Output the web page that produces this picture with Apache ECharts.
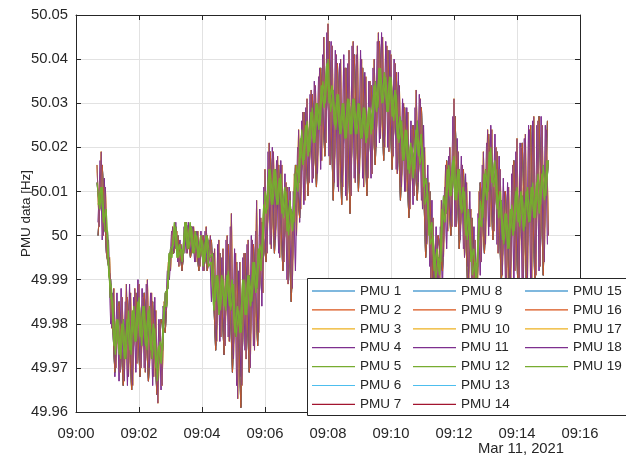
<!DOCTYPE html>
<html>
<head>
<meta charset="utf-8">
<script src="https://cdn.jsdelivr.net/npm/echarts@6/dist/echarts.min.js"></script>
<style>
  html, body { margin: 0; padding: 0; background: #ffffff; }
  #chart { width: 626px; height: 456px; }
</style>
</head>
<body>
<div id="chart"></div>
<script>
// PMU frequency records, 11 March 2021, seconds counted from 09:00:00.
const pmuNames = [
  'PMU 1', 'PMU 2', 'PMU 3', 'PMU 4', 'PMU 5', 'PMU 6', 'PMU 7',
  'PMU 8', 'PMU 9', 'PMU 10', 'PMU 11', 'PMU 12', 'PMU 13', 'PMU 14',
  'PMU 15', 'PMU 16', 'PMU 17', 'PMU 18', 'PMU 19'
];

// Default seven-colour line order, reused cyclically by the PMUs.
const pmuColors = ['#0072BD', '#D95319', '#EDB120', '#7E2F8E', '#77AC30', '#4DBEEE', '#A2142F'];

// Sample grids (seconds after 09:00:00).
const greenAStart = 40, greenAStep = 5;
const greenBStart = 42.5, greenBStep = 5;
const purpleAStart = 40, purpleAStep = 4;
const purpleBStart = 42, purpleBStep = 4;
const orangeStart = 42, orangeStep = 8;

// Frequency [Hz], green traces.
const freqGreenA = [
  50.012, 50.006, 50.011, 50.001, 50.001, 49.986, 49.985, 49.973, 49.981, 49.972,
  49.981, 49.972, 49.983, 49.973, 49.984, 49.976, 49.986, 49.975, 49.984, 49.974,
  49.984, 49.972, 49.979, 49.967, 49.976, 49.974, 49.987, 49.988, 49.997, 49.998,
  50.002, 49.995, 49.997, 49.996, 50.003, 49.997, 50.002, 49.996, 50.000, 49.995,
  49.999, 49.994, 50.000, 49.995, 49.996, 49.985, 49.991, 49.983, 49.990, 49.983,
  49.992, 49.983, 49.989, 49.977, 49.983, 49.978, 49.990, 49.982, 49.991, 49.985,
  49.994, 49.988, 49.998, 49.995, 50.010, 50.006, 50.015, 50.007, 50.015, 50.007,
  50.014, 50.004, 50.010, 50.000, 50.006, 50.003, 50.016, 50.012, 50.024, 50.017,
  50.026, 50.019, 50.029, 50.021, 50.030, 50.025, 50.035, 50.030, 50.040, 50.028,
  50.033, 50.024, 50.032, 50.023, 50.030, 50.022, 50.031, 50.023, 50.031, 50.023,
  50.030, 50.022, 50.029, 50.022, 50.029, 50.024, 50.035, 50.029, 50.038, 50.030,
  50.036, 50.028, 50.036, 50.026, 50.032, 50.021, 50.026, 50.017, 50.024, 50.014,
  50.020, 50.015, 50.026, 50.016, 50.020, 50.007, 50.010, 49.998, 50.000, 49.990,
  49.995, 49.994, 50.009, 50.005, 50.016, 50.009, 50.018, 50.008, 50.015, 50.005,
  50.010, 49.999, 50.004, 49.991, 49.994, 49.993, 50.008, 50.004, 50.015, 50.010,
  50.020, 50.011, 50.015, 50.004, 50.008, 49.998, 50.005, 49.997, 50.007, 50.001,
  50.011, 50.002, 50.009, 50.002, 50.011, 50.003, 50.012, 50.004, 50.014, 50.007,
  50.016, 50.009, 50.017
];
const freqGreenB = [
  50.007, 50.011, 50.003, 50.006, 49.991, 49.988, 49.975, 49.981, 49.973, 49.980,
  49.972, 49.981, 49.974, 49.983, 49.976, 49.985, 49.977, 49.984, 49.975, 49.983,
  49.974, 49.980, 49.970, 49.975, 49.971, 49.984, 49.984, 49.996, 49.995, 50.003,
  49.995, 49.998, 49.994, 50.003, 49.997, 50.003, 49.996, 50.001, 49.995, 50.000,
  49.993, 50.000, 49.993, 49.994, 49.983, 49.991, 49.982, 49.991, 49.984, 49.991,
  49.984, 49.990, 49.978, 49.984, 49.978, 49.990, 49.982, 49.991, 49.984, 49.994,
  49.987, 49.997, 49.992, 50.007, 50.005, 50.015, 50.007, 50.015, 50.007, 50.013,
  50.005, 50.011, 50.001, 50.008, 50.001, 50.014, 50.010, 50.022, 50.016, 50.025,
  50.018, 50.028, 50.021, 50.030, 50.024, 50.034, 50.029, 50.039, 50.030, 50.034,
  50.025, 50.032, 50.023, 50.030, 50.022, 50.031, 50.023, 50.031, 50.023, 50.030,
  50.022, 50.029, 50.021, 50.029, 50.023, 50.034, 50.028, 50.038, 50.030, 50.037,
  50.028, 50.036, 50.027, 50.033, 50.022, 50.027, 50.017, 50.024, 50.015, 50.021,
  50.013, 50.024, 50.018, 50.023, 50.011, 50.013, 50.000, 50.003, 49.992, 49.997,
  49.991, 50.006, 50.003, 50.015, 50.009, 50.017, 50.008, 50.015, 50.006, 50.011,
  50.000, 50.006, 49.994, 49.997, 49.989, 50.004, 50.002, 50.014, 50.008, 50.019,
  50.012, 50.017, 50.006, 50.010, 49.999, 50.005, 49.997, 50.006, 50.000, 50.010,
  50.003, 50.010, 50.001, 50.010, 50.003, 50.011, 50.004, 50.012, 50.005, 50.014,
  50.008, 50.017
];

// Frequency [Hz], purple traces.
const freqPurpleA = [
  50.016, 50.002, 50.019, 50.000, 50.011, 49.994, 49.995, 49.979, 49.988, 49.970,
  49.984, 49.969, 49.986, 49.967, 49.989, 49.968, 49.987, 49.966, 49.988, 49.971,
  49.989, 49.970, 49.986, 49.969, 49.990, 49.970, 49.987, 49.968, 49.983, 49.962,
  49.980, 49.966, 49.985, 49.983, 49.994, 49.992, 50.002, 49.997, 50.001, 49.993,
  49.998, 49.994, 50.003, 49.996, 50.002, 49.997, 50.002, 49.994, 50.001, 49.993,
  50.000, 49.992, 50.002, 49.993, 50.000, 49.988, 49.997, 49.976, 49.999, 49.977,
  49.997, 49.975, 50.000, 49.976, 50.005, 49.972, 49.996, 49.963, 49.994, 49.966,
  49.996, 49.972, 49.999, 49.970, 49.999, 49.974, 50.008, 49.978, 50.004, 49.987,
  50.015, 49.996, 50.021, 49.997, 50.019, 49.999, 50.018, 49.995, 50.016, 49.994,
  50.012, 49.989, 50.010, 49.988, 50.014, 50.000, 50.024, 50.006, 50.028, 50.008,
  50.031, 50.012, 50.033, 50.013, 50.034, 50.014, 50.038, 50.017, 50.045, 50.021,
  50.048, 50.016, 50.043, 50.012, 50.041, 50.010, 50.040, 50.011, 50.038, 50.008,
  50.042, 50.009, 50.044, 50.012, 50.043, 50.014, 50.040, 50.011, 50.036, 50.013,
  50.035, 50.014, 50.040, 50.020, 50.046, 50.022, 50.045, 50.020, 50.043, 50.019,
  50.041, 50.018, 50.039, 50.014, 50.034, 50.011, 50.030, 50.010, 50.028, 50.006,
  50.024, 50.009, 50.033, 50.012, 50.031, 50.006, 50.020, 49.998, 50.012, 49.990,
  50.004, 49.984, 50.000, 49.984, 50.008, 49.995, 50.016, 50.001, 50.020, 50.002,
  50.031, 50.002, 50.019, 49.999, 50.016, 49.995, 50.012, 49.990, 50.006, 49.982,
  49.999, 49.983, 50.010, 49.994, 50.019, 49.998, 50.024, 50.002, 50.024, 50.001,
  50.020, 49.996, 50.015, 49.991, 50.010, 49.988, 50.011, 49.989, 50.016, 49.992,
  50.022, 49.990, 50.020, 49.988, 50.023, 49.990, 50.024, 49.989, 50.027, 49.991,
  50.026, 49.993, 50.025, 49.994, 50.024, 50.000
];
const freqPurpleB = [
  50.003, 50.017, 49.999, 50.013, 49.996, 49.999, 49.980, 49.987, 49.968, 49.987,
  49.967, 49.988, 49.969, 49.985, 49.966, 49.989, 49.967, 49.986, 49.969, 49.990,
  49.968, 49.988, 49.970, 49.989, 49.967, 49.987, 49.966, 49.986, 49.964, 49.981,
  49.965, 49.984, 49.980, 49.992, 49.990, 50.001, 49.996, 50.003, 49.994, 49.999,
  49.992, 50.002, 49.996, 50.003, 49.996, 50.002, 49.994, 50.001, 49.993, 50.001,
  49.992, 50.001, 49.993, 49.999, 49.985, 49.996, 49.975, 49.998, 49.976, 49.995,
  49.973, 49.999, 49.977, 50.002, 49.973, 49.997, 49.966, 49.992, 49.968, 49.995,
  49.974, 49.998, 49.971, 50.000, 49.975, 50.001, 49.978, 50.006, 49.984, 50.011,
  49.995, 50.019, 49.998, 50.020, 49.997, 50.017, 49.996, 50.017, 49.993, 50.014,
  49.990, 50.011, 49.987, 50.010, 49.992, 50.020, 50.003, 50.026, 50.007, 50.029,
  50.010, 50.032, 50.012, 50.035, 50.013, 50.036, 50.015, 50.041, 50.019, 50.046,
  50.018, 50.044, 50.013, 50.042, 50.011, 50.039, 50.012, 50.041, 50.009, 50.039,
  50.010, 50.043, 50.013, 50.041, 50.012, 50.042, 50.013, 50.037, 50.012, 50.035,
  50.013, 50.038, 50.018, 50.044, 50.021, 50.046, 50.021, 50.044, 50.020, 50.042,
  50.017, 50.040, 50.015, 50.037, 50.012, 50.031, 50.010, 50.029, 50.007, 50.026,
  50.007, 50.029, 50.011, 50.032, 50.008, 50.025, 50.000, 50.016, 49.993, 50.008,
  49.986, 50.002, 49.983, 50.002, 49.988, 50.011, 49.997, 50.018, 50.002, 50.027,
  50.002, 50.022, 50.000, 50.018, 49.997, 50.014, 49.993, 50.010, 49.986, 50.002,
  49.981, 50.005, 49.991, 50.016, 49.996, 50.021, 50.000, 50.025, 50.003, 50.023,
  49.998, 50.018, 49.993, 50.013, 49.990, 50.012, 49.987, 50.014, 49.990, 50.019,
  49.989, 50.021, 49.987, 50.022, 49.989, 50.025, 49.988, 50.026, 49.990, 50.025,
  49.992, 50.027, 49.995, 50.025, 49.998
];

// Frequency [Hz], orange traces.
const freqOrange = [
  50.000, 50.016, 49.996, 49.990, 49.969, 49.985, 49.966, 49.986, 49.965, 49.987,
  49.968, 49.987, 49.967, 49.985, 49.964, 49.981, 49.978, 49.996, 49.996, 50.000,
  49.992, 50.003, 49.995, 50.001, 49.992, 50.000, 49.992, 49.999, 49.974, 49.996,
  49.973, 49.998, 49.969, 49.994, 49.961, 49.996, 49.969, 49.998, 49.975, 50.003,
  49.994, 50.019, 49.996, 50.016, 49.992, 50.011, 49.985, 50.016, 50.004, 50.028,
  50.009, 50.032, 50.011, 50.038, 50.018, 50.044, 50.008, 50.039, 50.007, 50.038,
  50.005, 50.041, 50.010, 50.038, 50.009, 50.034, 50.016, 50.044, 50.017, 50.042,
  50.015, 50.037, 50.008, 50.029, 50.004, 50.025, 50.008, 50.029, 49.995, 50.010,
  49.982, 50.000, 49.992, 50.017, 50.000, 50.027, 49.997, 50.015, 49.988, 50.004,
  49.980, 50.012, 49.996, 50.023, 49.999, 50.019, 49.989, 50.010, 49.986, 50.017,
  49.987, 50.021, 49.988, 50.025, 49.989, 50.027, 49.991, 50.026
];

// Axis ranges and ticks.
const xMinSec = 0, xMaxSec = 960, xTickSec = 120;
const yMin = 49.96, yMax = 50.05, yTick = 0.01;
const dateLabel = 'Mar 11, 2021';
const yAxisTitle = 'PMU data [Hz]';

function toPairs(values, start, step) {
  return values.map((v, i) => [start + i * step, v]);
}
const tracks = {
  greenA: toPairs(freqGreenA, greenAStart, greenAStep),
  greenB: toPairs(freqGreenB, greenBStart, greenBStep),
  purpleA: toPairs(freqPurpleA, purpleAStart, purpleAStep),
  purpleB: toPairs(freqPurpleB, purpleBStart, purpleBStep),
  orange: toPairs(freqOrange, orangeStart, orangeStep)
};
// recorded track shown by each PMU (1..19)
const pmuTrack = [
  'orange', 'orange', 'purpleA', 'purpleB', 'greenB', 'greenA', 'greenA',
  'orange', 'orange', 'purpleA', 'purpleB', 'greenB', 'greenA', 'greenA',
  'orange', 'orange', 'purpleA', 'purpleA', 'greenA'
];

const FONT = 'Liberation Sans, Arial, Helvetica, sans-serif';
const INK = '#262626';

const series = pmuNames.map((name, i) => {
  const c = pmuColors[i % 7];
  const isGreen = (i % 7) === 4;
  return {
    type: 'line',
    name: name,
    data: tracks[pmuTrack[i]],
    symbol: 'none',
    showSymbol: false,
    silent: true,
    animation: false,
    lineStyle: { width: isGreen ? 1.2 : 0.8, color: c },
    itemStyle: { color: c },
    emphasis: { disabled: true },
    z: isGreen ? 3 : 2
  };
});

function legendColumn(names, left) {
  return {
    show: true,
    data: names.map(n => ({ name: n, icon: 'rect' })),
    orient: 'vertical',
    left: left,
    top: 284,
    padding: 0,
    itemWidth: 43,
    itemHeight: 1.2,
    itemGap: 4.9,
    selectedMode: false,
    z: 10,
    textStyle: { fontFamily: FONT, fontSize: 13.5, color: INK, lineHeight: 14 }
  };
}

const pad2 = n => (n < 10 ? '0' : '') + n;

const chart = echarts.init(document.getElementById('chart'), null, { renderer: 'canvas' });
chart.setOption({
  animation: false,
  backgroundColor: '#ffffff',
  grid: { left: 76, right: 46, top: 15, bottom: 44, containLabel: false },
  xAxis: [
    {
      type: 'value', min: xMinSec, max: xMaxSec, interval: xTickSec, position: 'bottom',
      axisLine: { show: true, onZero: false, lineStyle: { color: INK, width: 1 } },
      axisTick: { show: true, inside: true, length: 5, lineStyle: { color: INK } },
      axisLabel: {
        fontFamily: FONT, fontSize: 14.8, color: INK, margin: 14,
        formatter: v => '09:' + pad2(Math.round(v / 60))
      },
      splitLine: { show: true, lineStyle: { color: '#e2e2e2', width: 1 } }
    },
    {
      type: 'value', min: xMinSec, max: xMaxSec, interval: xTickSec, position: 'top',
      axisLine: { show: true, onZero: false, lineStyle: { color: INK, width: 1 } },
      axisTick: { show: true, inside: true, length: 5, lineStyle: { color: INK } },
      axisLabel: { show: false },
      splitLine: { show: false }
    }
  ],
  yAxis: [
    {
      type: 'value', min: yMin, max: yMax, interval: yTick, position: 'left',
      name: yAxisTitle, nameLocation: 'middle', nameGap: 43, nameMoveOverlap: false,
      nameTextStyle: { fontFamily: FONT, fontSize: 13.4, color: INK },
      axisLine: { show: true, onZero: false, lineStyle: { color: INK, width: 1 } },
      axisTick: { show: true, inside: true, length: 5, lineStyle: { color: INK } },
      axisLabel: {
        fontFamily: FONT, fontSize: 14.8, color: INK, margin: 8,
        formatter: v => String(parseFloat(v.toFixed(2)))
      },
      splitLine: { show: true, lineStyle: { color: '#e2e2e2', width: 1 } }
    },
    {
      type: 'value', min: yMin, max: yMax, interval: yTick, position: 'right',
      axisLine: { show: true, onZero: false, lineStyle: { color: INK, width: 1 } },
      axisTick: { show: true, inside: true, length: 5, lineStyle: { color: INK } },
      axisLabel: { show: false },
      splitLine: { show: false }
    }
  ],
  legend: [
    legendColumn(pmuNames.slice(0, 7), 312),
    legendColumn(pmuNames.slice(7, 14), 413),
    legendColumn(pmuNames.slice(14), 525)
  ],
  graphic: [
    {
      type: 'rect', z: 5, silent: true,
      shape: { x: 307.5, y: 278.5, width: 340, height: 137 },
      style: { fill: '#ffffff', stroke: INK, lineWidth: 1 }
    },
    {
      type: 'text', z: 5, silent: true, x: 521, y: 449,
      style: {
        text: dateLabel, align: 'center', verticalAlign: 'middle',
        font: '14.8px ' + FONT, fill: INK
      }
    }
  ],
  series: series
});
</script>
</body>
</html>
